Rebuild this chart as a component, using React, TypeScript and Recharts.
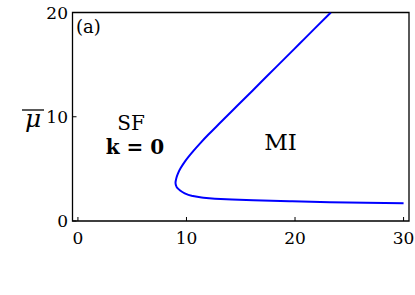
import React from 'react';
import { LineChart, Line, XAxis, YAxis, ReferenceArea } from 'recharts';

// Phase boundary curve, ordered along the curve (upper branch -> turning point -> lower branch).
// mu decreases monotonically along the path, so x is a function of mu.
const curveX = [23.3, 21.85, 20.41, 18.97, 17.52, 16.08, 14.63, 13.66, 12.7, 12.0, 11.3, 10.62, 9.85, 9.48, 9.23, 9.09, 9.02, 8.99, 9.04, 9.15, 9.39, 9.8, 10.47, 11.4, 12.62, 14.2, 16.16, 19.5, 23.2, 26.5, 30.0];
const curveY = [20.0, 18.5, 17.0, 15.5, 14.0, 12.5, 11.0, 10.0, 9.0, 8.27, 7.5, 6.7, 5.7, 5.1, 4.6, 4.2, 3.9, 3.68, 3.4, 3.17, 2.95, 2.68, 2.42, 2.25, 2.14, 2.07, 2.0, 1.9, 1.81, 1.75, 1.7];

const xTicks = [0, 10, 20, 30];
const yTicks = [0, 10, 20];
const xDomain = [-0.5, 30.5];
const yDomain = [0, 20];

const data = curveX.map((x, i) => ({ x, y: curveY[i] }));

const FONT = '"DejaVu Serif", serif';

const XTick = (props: any) => {
  const { x, y, payload } = props;
  return (
    <g>
      <line x1={x} x2={x} y1={y} y2={y - 4} stroke="#000" strokeWidth={1} />
      <text x={x} y={y + 23} textAnchor="middle" fontFamily={FONT} fontSize={17} fill="#000">
        {payload.value}
      </text>
    </g>
  );
};

const YTick = (props: any) => {
  const { x, y, payload } = props;
  return (
    <g>
      <line x1={x} x2={x + 4} y1={y} y2={y} stroke="#000" strokeWidth={1} />
      <text x={x - 4.5} y={y + 6} textAnchor="end" fontFamily={FONT} fontSize={17} fill="#000">
        {payload.value}
      </text>
    </g>
  );
};

export default function App() {
  return (
    <div style={{ position: 'absolute', left: 0, top: 0, width: 415, height: 295, background: '#fff' }}>
      <LineChart
        width={415}
        height={295}
        data={data}
        margin={{ top: 12.5, right: 6, bottom: 44, left: 0 }}
      >
        <XAxis
          dataKey="x"
          type="number"
          domain={xDomain}
          ticks={xTicks}
          allowDataOverflow
          interval={0}
          axisLine={false}
          tickLine={false}
          tickSize={0}
          tickMargin={0}
          height={30}
          tick={<XTick />}
        />
        <YAxis
          type="number"
          domain={yDomain}
          ticks={yTicks}
          allowDataOverflow
          interval={0}
          axisLine={false}
          tickLine={false}
          tickSize={0}
          tickMargin={0}
          width={72.5}
          tick={<YTick />}
        />
        <ReferenceArea
          x1={xDomain[0]}
          x2={xDomain[1]}
          y1={yDomain[0]}
          y2={yDomain[1]}
          fill="none"
          fillOpacity={0}
          stroke="#000"
          strokeWidth={1.3}
          strokeOpacity={1}
        />
        <Line
          dataKey="y"
          type="monotoneY"
          stroke="#0000ff"
          strokeWidth={2}
          dot={false}
          activeDot={false}
          isAnimationActive={false}
        />
      </LineChart>
      <svg
        width={415}
        height={295}
        style={{ position: 'absolute', left: 0, top: 0, pointerEvents: 'none' }}
      >
        <text x={76} y={32.5} fontFamily={FONT} fontSize={18} fill="#000">(a)</text>
        <text x={131} y={130} textAnchor="middle" fontFamily={FONT} fontSize={20} fill="#000">SF</text>
        <text x={135} y={153.5} textAnchor="middle" fontFamily={FONT} fontSize={20} fontWeight="bold" fill="#000">k = 0</text>
        <text x={280.5} y={150} textAnchor="middle" fontFamily={FONT} fontSize={23} fill="#000">MI</text>
        <text x={33} y={127} textAnchor="middle" fontFamily={FONT} fontSize={25} fontStyle="italic" fill="#000">μ</text>
        <line x1={22} x2={44} y1={110} y2={110} stroke="#000" strokeWidth={1.3} />
      </svg>
    </div>
  );
}
